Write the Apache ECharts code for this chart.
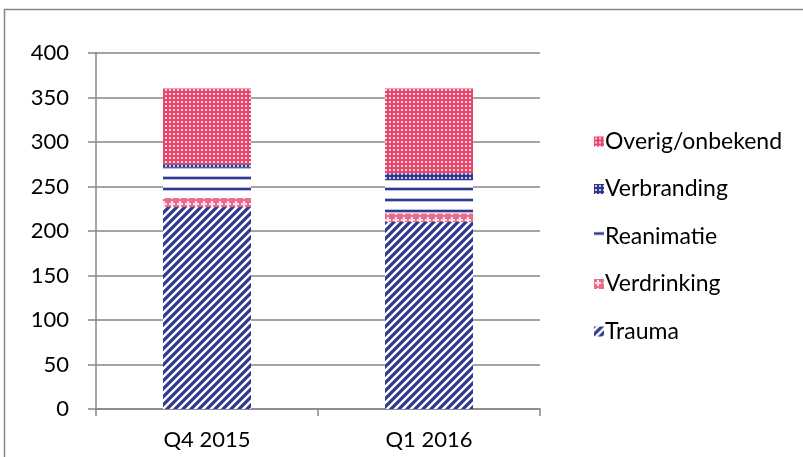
<!DOCTYPE html>
<html lang="nl">
<head>
    <meta charset="UTF-8">
    <title>Inzetten per kwartaal</title>
    <style>
        html, body { margin: 0; padding: 0; background: #fff; }
        #main { width: 803px; height: 457px; }
    </style>
</head>
<body>
    <div id="main"></div>
    <script src="https://cdn.jsdelivr.net/npm/echarts@6/dist/echarts.min.js"></script>
    <script>
        var categories = ['Q4 2015', 'Q1 2016'];
        var trauma = [227, 210];
        var verdrinking = [10, 10];
        var reanimatie = [34, 37];
        var verbranding = [4, 8];
        var overig = [85, 95];
        var legendOrder = ['Overig/onbekend', 'Verbranding', 'Reanimatie', 'Verdrinking', 'Trauma'];

        var navy = '#2f3a8f';
        var pink = '#e8456d';

        // kleine tegels voor de vulpatronen
        function tile(w, h, draw) {
            var c = document.createElement('canvas');
            c.width = w; c.height = h;
            draw(c.getContext('2d'));
            return { image: c, repeat: 'repeat' };
        }

        var traumaFill = tile(8, 8, function (g) {
            g.fillStyle = '#fff'; g.fillRect(0, 0, 8, 8);
            g.strokeStyle = navy; g.lineWidth = 3.2;
            g.beginPath();
            g.moveTo(-4, 4); g.lineTo(4, -4);
            g.moveTo(0, 8); g.lineTo(8, 0);
            g.moveTo(4, 12); g.lineTo(12, 4);
            g.stroke();
        });
        var verdrinkingFill = tile(8, 8, function (g) {
            g.fillStyle = '#ec6a8a'; g.fillRect(0, 0, 8, 8);
            g.fillStyle = '#fbe3ea';
            g.fillRect(3, 1, 2, 6);
            g.fillRect(1, 3, 6, 2);
        });
        var reanimatieFill = tile(4, 11, function (g) {
            g.fillStyle = '#fff'; g.fillRect(0, 0, 4, 11);
            g.fillStyle = '#b9bde0'; g.fillRect(0, 0, 4, 4);
            g.fillStyle = navy; g.fillRect(0, 1, 4, 2);
        });
        var verbrandingFill = tile(4, 4, function (g) {
            g.fillStyle = navy; g.fillRect(0, 0, 4, 4);
            g.fillStyle = '#c9cce8'; g.fillRect(1, 1, 2, 2);
        });
        var overigFill = tile(4, 4, function (g) {
            g.fillStyle = pink; g.fillRect(0, 0, 4, 4);
            g.fillStyle = '#f7c3d0'; g.fillRect(1, 1, 2, 2);
            g.fillStyle = '#ffffff'; g.fillRect(1.5, 1.5, 1, 1);
        });

        function bar(name, data, fill) {
            return {
                name: name,
                type: 'bar',
                stack: 'totaal',
                barWidth: 88,
                data: data,
                itemStyle: { color: fill }
            };
        }

        var myChart = echarts.init(document.getElementById('main'));

        var option = {
            animation: false,
            textStyle: { fontFamily: 'Lato, "Open Sans", sans-serif' },
            graphic: [{
                type: 'rect',
                shape: { x: 4.5, y: 9.5, width: 830, height: 470 },
                style: { fill: null, stroke: '#868686', lineWidth: 1.5 },
                silent: true
            }],
            grid: { left: 96, right: 263, top: 53, bottom: 48 },
            legend: {
                orient: 'vertical',
                left: 589,
                top: 125,
                itemWidth: 10,
                itemHeight: 10,
                itemGap: 24.5,
                icon: 'rect',
                data: legendOrder,
                textStyle: { fontSize: 23, color: '#000', fontFamily: 'Lato, sans-serif', padding: [0, 0, 0, -4] }
            },
            xAxis: {
                type: 'category',
                data: categories,
                axisLine: { lineStyle: { color: '#868686', width: 1.5 } },
                axisTick: { show: true, length: 7, lineStyle: { color: '#868686', width: 1.5 } },
                axisLabel: { fontSize: 22, color: '#000', margin: 20 }
            },
            yAxis: {
                type: 'value',
                min: 0,
                max: 400,
                interval: 50,
                axisLine: { show: true, lineStyle: { color: '#868686', width: 1.5 } },
                axisTick: { show: true, length: 8, lineStyle: { color: '#868686', width: 1.5 } },
                axisLabel: { fontSize: 22, color: '#000', margin: 27 },
                splitLine: { lineStyle: { color: '#868686', width: 1.5 } }
            },
            series: [
                bar('Trauma', trauma, traumaFill),
                bar('Verdrinking', verdrinking, verdrinkingFill),
                bar('Reanimatie', reanimatie, reanimatieFill),
                bar('Verbranding', verbranding, verbrandingFill),
                bar('Overig/onbekend', overig, overigFill)
            ]
        };

        myChart.setOption(option);
    </script>
</body>
</html>
